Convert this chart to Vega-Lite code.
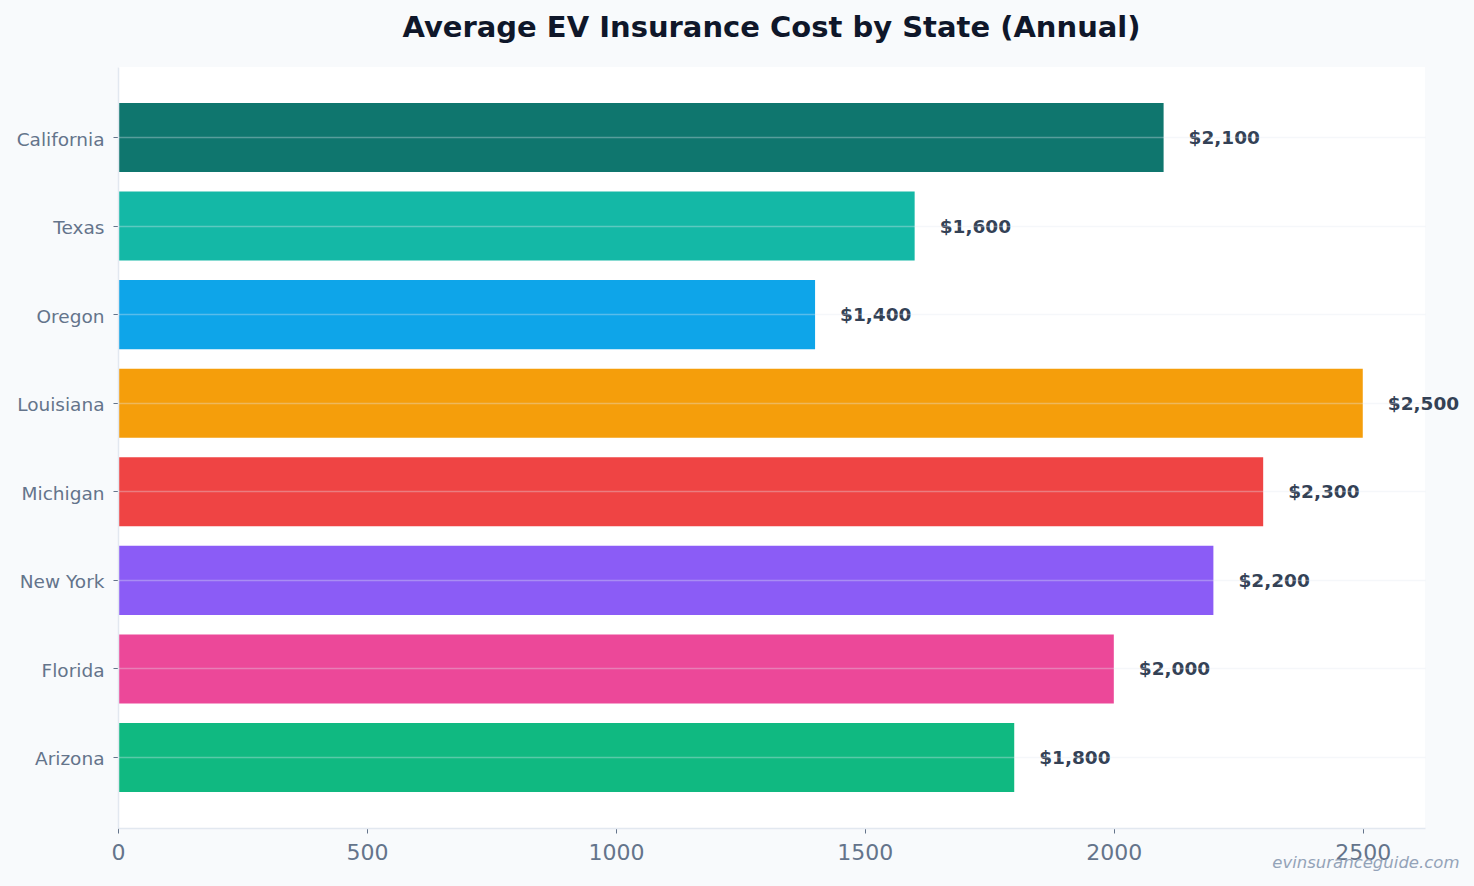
{
  "$schema": "https://vega.github.io/schema/vega-lite/v6.json",
  "width": 1307,
  "height": 761,
  "autosize": {"type": "none"},
  "padding": {"left": 118, "top": 67, "right": 49, "bottom": 58},
  "background": "#f8fafc",
  "config": {
    "font": "DejaVu Sans",
    "view": {"fill": "#ffffff", "stroke": null}
  },
  "title": {
    "text": "Average EV Insurance Cost by State (Annual)",
    "font": "DejaVu Sans",
    "fontSize": 29,
    "fontWeight": "bold",
    "color": "#0f172a",
    "anchor": "middle",
    "offset": 24
  },
  "data": {
    "values": [
      {"state": "California", "cost": 2100},
      {"state": "Texas", "cost": 1600},
      {"state": "Oregon", "cost": 1400},
      {"state": "Louisiana", "cost": 2500},
      {"state": "Michigan", "cost": 2300},
      {"state": "New York", "cost": 2200},
      {"state": "Florida", "cost": 2000},
      {"state": "Arizona", "cost": 1800}
    ]
  },
  "encoding": {
    "y": {
      "field": "state",
      "type": "nominal",
      "sort": null,
      "scale": {"paddingInner": 0.22, "paddingOuter": 0.406},
      "axis": {
        "title": null,
        "grid": true,
        "gridColor": "#e2e8f0",
        "gridOpacity": 0.35,
        "gridWidth": 1.5,
        "zindex": 1,
        "domain": true,
        "domainColor": "#e2e8f0",
        "domainWidth": 1.5,
        "ticks": true,
        "tickColor": "#64748b",
        "tickSize": 5,
        "labelFont": "DejaVu Sans",
        "labelFontSize": 18.5,
        "labelColor": "#64748b",
        "labelPadding": 9,
        "labelOffset": 2
      }
    }
  },
  "layer": [
    {
      "mark": {"type": "bar"},
      "encoding": {
        "x": {
          "field": "cost",
          "type": "quantitative",
          "scale": {"domain": [0, 2625], "nice": false, "zero": true},
          "axis": {
            "values": [0, 500, 1000, 1500, 2000, 2500],
            "format": "d",
            "labelFlush": false,
            "grid": false,
            "domain": true,
            "domainColor": "#e2e8f0",
            "domainWidth": 1.5,
            "tickColor": "#64748b",
            "tickSize": 5,
            "labelFont": "DejaVu Sans",
            "labelFontSize": 22,
            "labelColor": "#64748b",
            "labelPadding": 9,
            "title": "evinsuranceguide.com",
            "titleFont": "DejaVu Sans",
            "titleFontSize": 16.5,
            "titleFontStyle": "italic",
            "titleFontWeight": "normal",
            "titleColor": "#94a3b8",
            "titleAlign": "right",
            "titleBaseline": "alphabetic",
            "titleX": 1341,
            "titleY": 39
          }
        },
        "color": {
          "field": "state",
          "type": "nominal",
          "legend": null,
          "scale": {
            "domain": ["California", "Texas", "Oregon", "Louisiana", "Michigan", "New York", "Florida", "Arizona"],
            "range": ["#0f766e", "#14b8a6", "#0ea5e9", "#f59e0b", "#ef4444", "#8b5cf6", "#ec4899", "#10b981"]
          }
        }
      }
    },
    {
      "mark": {
        "type": "text",
        "align": "left",
        "baseline": "middle",
        "dx": 25,
        "dy": 0.5,
        "font": "DejaVu Sans",
        "fontSize": 18.5,
        "fontWeight": "bold",
        "color": "#334155"
      },
      "encoding": {
        "x": {"field": "cost", "type": "quantitative"},
        "text": {"field": "cost", "type": "quantitative", "format": "$,.0f"}
      }
    }
  ]
}
